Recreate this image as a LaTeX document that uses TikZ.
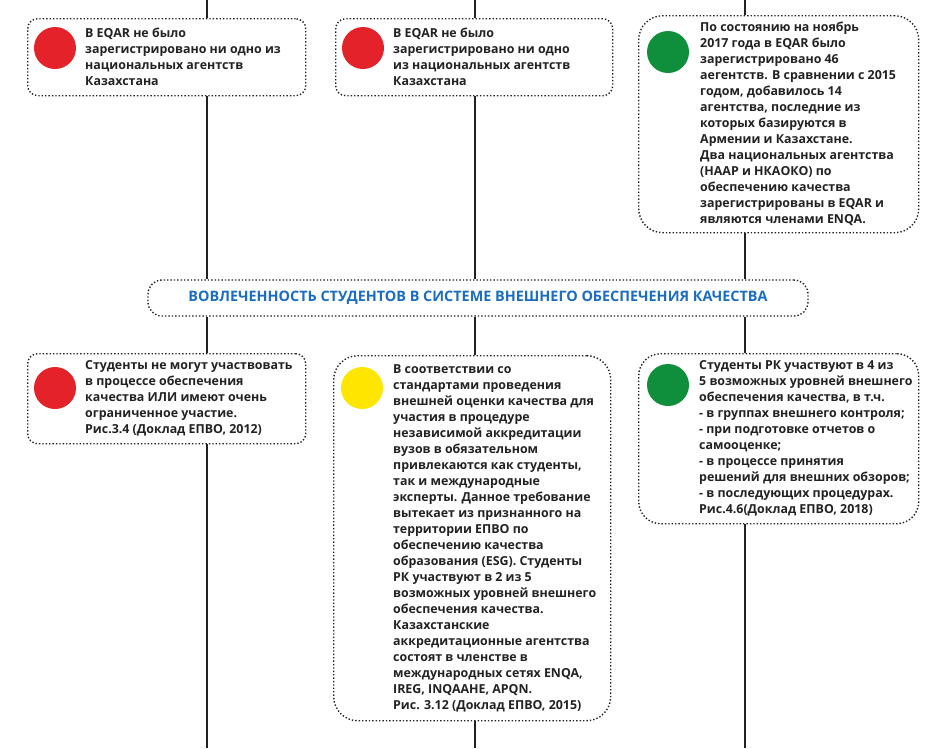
\documentclass[tikz,border=0pt]{standalone}
\usepackage{fontspec}
\setmainfont{Open Sans}
\usepackage{tikz}
\usetikzlibrary{positioning,calc}
\definecolor{dotred}{HTML}{E42229}
\definecolor{dotyellow}{HTML}{FFE600}
\definecolor{dotgreen}{HTML}{0F8E3B}
\definecolor{titleblue}{HTML}{1B6DBF}
\definecolor{inkgray}{HTML}{222222}
\tikzset{
infobox/.style={draw=inkgray,dotted,line width=1.4pt,fill=white,rounded corners=#1,anchor=north west,inner sep=0pt},
infotext/.style={anchor=west,align=left,inner sep=0pt,text=inkgray,font=\bfseries\fontsize{12.4}{16}\selectfont},
marker/.style={circle,fill=#1,minimum size=42pt,inner sep=0pt},
titlebox/.style={draw=inkgray,dotted,line width=1.4pt,fill=white,rounded corners=14pt,minimum width=660pt,minimum height=36pt,inner sep=0pt,text=titleblue,font=\bfseries\fontsize{14.4}{16}\selectfont},
rail/.style={draw=inkgray,line width=1.4pt}
}

\begin{document}
\begin{tikzpicture}[x=1pt,y=-1pt]
\useasboundingbox (0,0) rectangle (945,748);
% rails
\coordinate (t1) at (207,0); \coordinate (b1) at (207,748);
\coordinate (t2) at (475,0); \coordinate (b2) at (475,748);
\coordinate (t3) at (745,0); \coordinate (b3) at (745,748);

% top row
\node[infobox=10pt,minimum width=278pt,minimum height=77pt] (top1) at (27,18) {};
\node[infobox=10pt,minimum width=277pt,minimum height=77pt] (top2) at (335,18) {};
\node[infobox=24pt,minimum width=280pt,minimum height=217pt] (top3) at (638,15) {};

\node[marker=dotred] (dot1) at (55,48) {};
\node[marker=dotred] (dot2) at (363,48) {};
\node[marker=dotgreen] (dot3) at (668,52) {};

\node[infotext] (txt1) at ($(top1.west)+(58,0)$) {В EQAR не было\\зарегистрировано ни одно из\\национальных агентств\\Казахстана};
\node[infotext] (txt2) at ($(top2.west)+(58,0)$) {В EQAR не было\\зарегистрировано ни одно\\из национальных агентств\\Казахстана};
\node[infotext] (txt3) at ($(top3.west)+(62,0)$) {По состоянию на ноябрь\\2017 года в EQAR было\\зарегистрировано 46\\аегентств. В сравнении с 2015\\годом, добавилось 14\\агентства, последние из\\которых базируются в\\Армении и Казахстане.\\Два национальных агентства\\(НААР и НКАОКО) по\\обеспечению качества\\зарегистрированы в EQAR и\\являются членами ENQA.};

% title
\node[titlebox] (title) at (478,298) {ВОВЛЕЧЕННОСТЬ СТУДЕНТОВ В СИСТЕМЕ ВНЕШНЕГО ОБЕСПЕЧЕНИЯ КАЧЕСТВА};

% bottom row
\node[infobox=10pt,minimum width=278pt,minimum height=90pt] (bot1) at (27,353) {};
\node[infobox=24pt,minimum width=277pt,minimum height=365pt] (bot2) at (333,355) {};
\node[infobox=22pt,minimum width=280pt,minimum height=170pt] (bot3) at (638,353) {};

\node[marker=dotred] (dot4) at (55,388) {};
\node[marker=dotyellow] (dot5) at (362,388) {};
\node[marker=dotgreen] (dot6) at (668,385) {};

\node[infotext] (txt4) at ($(bot1.west)+(58,0)$) {Студенты не могут участвовать\\в процессе обеспечения\\качества ИЛИ имеют очень\\ограниченное участие.\\Рис.3.4 (Доклад ЕПВО, 2012)};
\node[infotext] (txt5) at ($(bot2.west)+(60,0)$) {В соответствии со\\стандартами проведения\\внешней оценки качества для\\участия в процедуре\\независимой аккредитации\\вузов в обязательном\\привлекаются как студенты,\\так и международные\\эксперты. Данное требование\\вытекает из признанного на\\территории ЕПВО по\\обеспечению качества\\образования (ESG). Студенты\\РК участвуют в 2 из 5\\возможных уровней внешнего\\обеспечения качества.\\Казахстанские\\аккредитационные агентства\\состоят в членстве в\\международных сетях ENQA,\\IREG, INQAAHE, APQN.\\Рис. 3.12 (Доклад ЕПВО, 2015)};
\node[infotext] (txt6) at ($(bot3.west)+(61,0)$) {Студенты РК участвуют в 4 из\\5 возможных уровней внешнего\\обеспечения качества, в т.ч.\\- в группах внешнего контроля;\\- при подготовке отчетов о\\самооценке;\\- в процессе принятия\\решений для внешних обзоров;\\- в последующих процедурах.\\Рис.4.6(Доклад ЕПВО, 2018)};

% connectors
\draw[rail] (t1) -- (t1 |- top1.north);
\draw[rail] (t1 |- top1.south) -- (t1 |- title.north);
\draw[rail] (t1 |- title.south) -- (t1 |- bot1.north);
\draw[rail] (t1 |- bot1.south) -- (b1);
\draw[rail] (t2) -- (t2 |- top2.north);
\draw[rail] (t2 |- top2.south) -- (t2 |- title.north);
\draw[rail] (t2 |- title.south) -- (t2 |- bot2.north);
\draw[rail] (t2 |- bot2.south) -- (b2);
\draw[rail] (t3) -- (t3 |- top3.north);
\draw[rail] (t3 |- top3.south) -- (t3 |- title.north);
\draw[rail] (t3 |- title.south) -- (t3 |- bot3.north);
\draw[rail] (t3 |- bot3.south) -- (b3);
\end{tikzpicture}
\end{document}
